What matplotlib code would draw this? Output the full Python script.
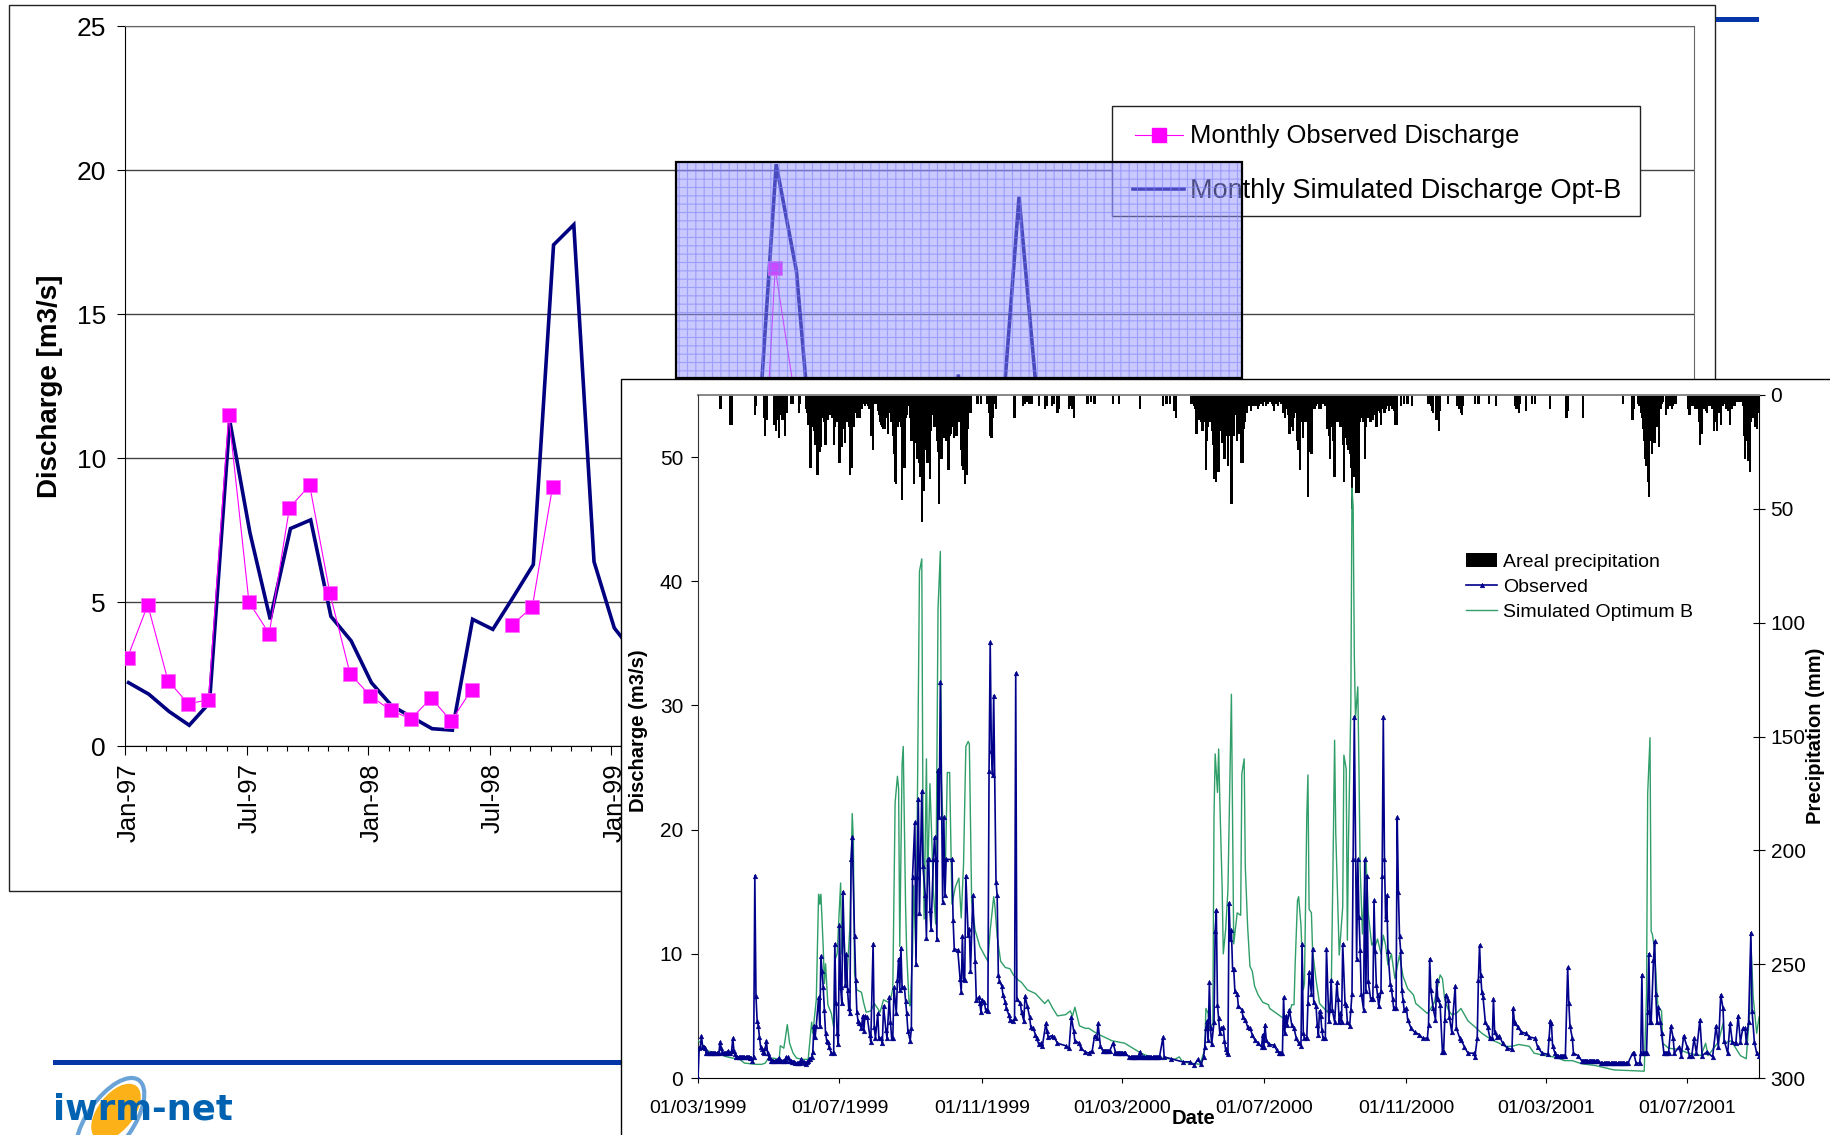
import numpy as np
import matplotlib
matplotlib.use("Agg")
import matplotlib.pyplot as plt
from matplotlib.patches import Rectangle, Ellipse
from matplotlib.ticker import FixedLocator, FixedFormatter
from matplotlib.transforms import ScaledTranslation

plt.rcParams['font.family'] = ['Liberation Sans', 'DejaVu Sans']
plt.rcParams['hatch.linewidth'] = 0.8

# ---------- background chart (monthly) ----------
back_month_labels = ['Jan-97', 'Jul-97', 'Jan-98', 'Jul-98', 'Jan-99', 'Jul-99', 'Jan-00', 'Jul-00',
                     'Jan-01', 'Jul-01', 'Jan-02', 'Jul-02', 'Jan-03']
back_y_ticks = [0, 5, 10, 15, 20, 25]
monthly_obs = [3.07, 4.9, 2.27, 1.47, 1.6, 11.5, 5.0, 3.9, 8.27, 9.05, 5.3, 2.5, 1.74, 1.24, 0.94, 1.66, 0.87, 1.96,
               np.nan, 4.2, 4.83, 9.0, np.nan, np.nan, np.nan, np.nan, np.nan, np.nan, np.nan, np.nan, np.nan,
               3.5, 16.6, 12.0]
monthly_sim = [2.2, 1.8, 1.2, 0.72, 1.5, 11.3, 7.4, 4.4, 7.55, 7.85, 4.5, 3.65, 2.2, 1.4, 1.0, 0.6, 0.55, 4.4, 4.05,
               5.16, 6.3, 17.4, 18.1, 6.4, 4.1, 3.2, 2.4, 1.8, 1.6, 2.5, 4.0, 9.6, 20.2, 16.5, 8.3, 5.0, 4.0, 3.5,
               4.0, 3.5, 5.0, 12.9, 3.0, 9.8, 19.07, 11.2, 6.0]

# ---------- foreground chart (daily, day number from 01/03/1999) ----------
front_tick_days = [0, 122, 245, 366, 488, 611, 731, 853]
front_tick_labels = ['01/03/1999', '01/07/1999', '01/11/1999', '01/03/2000', '01/07/2000', '01/11/2000', '01/03/2001', '01/07/2001']
discharge_ticks = [0, 10, 20, 30, 40, 50]
precip_ticks = [0, 50, 100, 150, 200, 250, 300]

obs_1999 = [(0,0),(1,2.4),(2,2.5),(3,3.4),(4,2.5),(5,2.5),(6,2.4),(7,2),(8,2),(9,2),(10,2),(11,2),(12,2),(13,2),(14,2),(15,2),(16,2),(17,2),(18,2),
 (19,2.9),(20,2.4),(21,2.1),(22,2),(23,2),(24,2),(25,2),(26,2.2),(27,2),(28,2),(29,2.2),(30,3.2),(31,2.2),(32,1.9),(33,1.7),(34,1.7),(35,1.7),(36,1.7),(37,1.7),(38,1.7),(39,1.7),(40,1.7),(41,1.7),(42,1.7),(43,1.7),(44,1.7),(45,1.6),(46,1.6),(47,1.4),(48,1.7),
 (49,16.3),(50,6.6),(51,4.6),(52,4.2),(53,3.3),(54,2.5),(55,2.3),(56,2.1),(57,2),(58,2.4),(59,3),(60,2),(61,1.7),(62,1.6),(63,1.4),(64,1.4),(65,1.4),(66,1.4),(67,1.4),(68,1.4),(69,1.5),(70,1.6),(71,1.4),(72,1.4),(73,1.4),(74,1.4),(75,1.4),(76,1.7),(77,1.4),(78,1.7),(79,1.4),(80,1.4),(81,1.3),(82,1.3),(83,1.3),(84,1.2),(85,1.2),(86,1.2),(87,1.2),(88,1.2),(89,1.5),(90,1.4),(91,1.3),(92,1.2),(93,1.1),(94,1.3),(95,1.4),(96,1.5),(97,1.5),(98,1.7),(99,2.1),
 (100,4.2),(101,3.3),(102,4.2),(104,6.5),(105,4.2),(106,9.8),(107,8.6),(108,7.3),(109,5.5),(110,3.6),(111,3),(112,2.9),(113,2.5),(115,2),(117,2),(118,10.8),(119,6),(120,3.6),(121,2.7),(122,12.3),(123,7.3),(124,6),(125,15),(127,7.5),(128,10),(129,7.1),(130,5.6),(131,5.2),(132,17.6),(133,19.4),(135,11.4),(136,7.9),(137,5.3),(138,4.6),(139,4.4),(141,4),(142,5),(143,3.8),(144,5),(146,4.9),(148,3.5),(149,2.9),(151,10.8),(152,4.1),(153,3.2),(155,5.2),(156,3.2),(158,3.2),(159,2.8),(160,5.8),(162,3.9),(163,3.2),(165,6.5),(166,4.5),(167,3.2),(168,3.2),(169,7.3),(171,5.2),(172,7.9),(173,9.6),(174,7.1),(175,10.5),(176,7.3),(178,7.3),(179,6.2),(180,5.2),(181,3.8),(183,3),(184,4),
 (185,16.2),(187,20.6),(188,9.2),(189,16.2),(190,22.5),(191,13.3),(193,23.1),(194,17.1),(196,14.7),(197,11.3),(198,17.6),(199,17.6),(200,13.5),(201,12),(203,17.6),(204,19.4),(205,17.6),(206,11.2),(207,24.8),(208,21),(209,31.9),(211,14.2),(212,21),(213,14.7),(214,17.6),(219,17.6),(220,12.7),(221,10.4),(224,10.3),(226,8),(227,6.9),(228,11.4),(229,8),(230,7.9),(231,16.3),(233,11.5),(234,12),(235,8.6),(237,14.7),(239,9.4),(240,6.3),(242,6.5),(243,6),(244,5.3),(245,6.3),(247,6.1),(248,5.5),(250,5.4),(251,24.7),(252,35.1),(253,26.3),(254,24.4),(255,30.8),(257,15.8),(258,14.7),(259,8.3),(260,7.8),(262,7.4),(263,6.7),(265,6.1),(266,5.6),(268,5.1),(269,4.7),(272,4.6),(273,4.8),(274,32.6),(275,6.4),(278,6),(279,5.3),(281,4.6),(282,6.6),(284,5.8),(286,4.9),(287,4.1),(289,4),(291,3.5),(292,3.2),(294,2.7)]
obs_2000 = [(296,2.8),(297,2.6),(300,4.4),(301,3.8),(302,3.3),(305,3.4),(307,3.3),(310,2.8),(317,2.6),(320,2.4),(322,4.9),(324,3.8),(325,3),(329,2.8),(330,2.4),(334,2.1),(337,2),(340,2.2),(342,3.4),(344,3.2),(345,4.4),(347,2.6),(349,2.2),(355,2.2),(358,2.8),(360,2.1),(368,2),(372,1.7),(380,1.7),(381,2.1),(382,1.7),(398,1.7),(401,3.3),(402,1.7),(408,1.55),(418,1.3),(424,1.3),(428,1.05),(431,1.5),(434,1.1),(436,1.7),(437,2.5),(438,4),(439,4.6),(440,3.1),(441,7.7),(442,4),(443,2.7),(445,4.5),(446,11.8),(447,13.5),(448,5.9),(449,4.8),(450,3.6),(451,4),(453,4.1),(454,3),(455,2.3),(456,2.1),(457,1.9),(458,14.1),(459,11.2),(460,11.9),(461,8.8),(462,8.8),(463,7),(465,6.8),(466,5.8),(469,5.5),(470,4.9),(472,4.7),(474,4.1),(476,4),(478,3.5),(480,3.1),(483,2.8),(486,2.5),(487,3.5),(488,2.5),(489,4.3),(490,3.1),(492,2.7),(497,2.65),(499,2.25),(501,2),(504,2),(505,6.5),(506,3.6),(507,5),(508,4.3),(510,5.5),(512,4.3),(514,4),(516,3.2),(518,2.8),(520,2.6),(521,10.8),(522,3.6),(523,3.2),(525,3.2),(526,6),(527,8.5),(529,6.8),(530,10.4),(531,6.1),(533,5.8),(534,4.3),(535,3.5),(536,5.4),(537,5),(538,3.9),(539,3.2),(541,3.2),(542,10.4),(544,4.6),(545,5.5),(546,7.9),(547,5.5),(549,4.5),(551,7.7),(552,6.4),(553,4.5),(554,5.2),(555,4.5),(556,10.8),(558,6),(559,5.9),(560,4.5),(562,4.2),(563,5.5),(564,6.8),(565,17.6),(566,29.1),(568,9.6),(569,17.6),(570,13),(571,10.3),(572,6.8),(574,5.5),(575,17.6),(576,7),(577,16.3),(578,7.8),(580,6.4),(582,6.4),(583,14.3),(584,10.2),(585,7.5),(586,6.7),(587,5.8),(589,7),(590,16.3),(591,29.1),(592,17.6),(593,12.8),(594,14.7),(595,10.2),(597,7.6),(598,7.2),(599,6.4),(600,5.6),(602,5.6),(603,21),(604,15),(605,11.4),(606,10.2),(607,7.1),(608,6.3),(609,5.5),(611,5.6),(612,4.7),(615,4),(618,3.7),(622,3.5),(625,3.2),(629,3.2),(630,4.3),(631,9.6),(632,7.1),(634,5.6),(636,4.7),(637,7.9),(638,6.4),(640,5.9),(642,2.1),(643,2.1),(644,4.7),(645,6.7),(647,6.3),(648,4.9),(650,3.7),(653,7.4),(654,4),(657,3.2),(658,3.1),(661,2.5),(664,2)]
obs_2001 = [(669,2),(670,1.7),(672,3.2),(673,7.9),(674,10.7),(675,8.3),(676,6.9),(677,6.5),(679,4.5),(681,4.1),(683,3.2),(685,3.2),(686,6.4),(687,3.7),(689,3.3),(691,3.4),(694,2.8),(698,2.4),(702,2.3),(703,5.6),(704,4.6),(705,4.4),(707,4.1),(710,3.7),(714,3.6),(717,3.3),(722,3.2),(724,2.5),(728,2),(733,1.9),(734,3.2),(735,4.6),(736,4.4),(737,2.6),(739,2),(740,1.75),(748,1.75),(750,8.9),(751,6),(752,4.2),(754,3.2),(755,2),(759,1.8),(762,1.4),(776,1.4),(779,1.2),(802,1.2),(806,2),(807,2),(809,1.2),(812,1.2),(813,2),(814,8.3),(815,2),(818,2),(819,5.3),(820,10),(821,4.5),(822,4.5),(824,9.5),(825,11),(826,6.8),(827,4.5),(828,5.7),(830,4.5),(831,3.6),(833,2),(837,2),(839,4.2),(841,3.2),(842,2),(846,2.5),(848,1.8),(850,3.4),(853,2.5),(855,1.8),(857,1.8),(859,3.2),(861,2),(864,4.7),(866,1.8),(870,2.1),(875,1.7),(878,4.2),(880,2.5),(882,6.7),(884,5.6),(885,3),(888,2),(890,4.4),(892,2.9),(895,2.8),(897,5),(899,2.9),(901,4),(903,4),(904,2.9),(906,4.5),(908,11.7),(909,5.4),(911,2.9),(913,2),(915,1.8)]
# stretches where the gauge reading stays level for many days: (first day, last day, m3/s)
obs_level_runs = [(382,398,1.7),(372,380,1.7),(740,748,1.75),(762,776,1.4),(779,802,1.2),(349,355,2.2),(501,504,2),(360,368,2.05),(833,837,2),(815,818,2)]

sim_1999 = [(0,3),(3,2.8),(8,2.2),(15,2),(25,1.7),(30,1.6),(36,1.5),(40,1.2),(50,1.1),(55,1.1),(58,1.2),(60,1.5),(65,1.6),(70,1.5),(71,2.6),(74,2.4),(75,3),(77,4.3),(79,2.8),(82,2),(85,1.6),(90,1.5),(95,1.5),(98,4.5),(99,3.6),(102,6.3),(104,14.8),(105,14),(106,14.8),(108,10.5),(109,7.6),(110,9.2),(112,5.9),(115,5.2),(117,4.1),(118,9.5),(120,10),(123,15.7),(124,10),(126,11.4),(128,7.3),(131,12.2),(133,21.3),(134,19.1),(135,8.4),(137,7.1),(141,6.9),(143,6),(145,5.3),(149,5.4),(152,6),(155,5.6),(157,5.3),(160,6.3),(164,6.1),(166,6.3),(168,7.2),(170,22.2),(172,24.3),(173,23.3),(174,10.6),(176,25.3),(177,26.7),(179,13.9),(180,10),(182,6.1),(183,5.8),(185,10),(186,15.5),(188,9.7),(191,40.8),(193,41.8),(194,21),(195,12.8),(197,25.7),(198,15.5),(200,23.7),(201,21),(203,15),(205,12.4),(207,37.8),(209,42.4),(210,23.9),(213,15.3),(215,24.6),(217,24.6),(219,14),(222,15.4),(225,16.1),(227,12.9),(229,17.2),(231,26.7),(233,27.1),(234,26.9),(236,14.2),(239,11.9),(243,10.6),(247,9.9),(250,9.4),(252,11.9),(255,14.6),(256,13.9),(258,11.4),(261,9.4),(265,8.9),(269,8.8),(272,8.3),(276,7.9),(279,7.7),(284,7.1),(291,6.8),(299,6),(302,6.3),(306,5.6),(310,5),(317,5.1),(321,5.4),(323,5),(325,5.7),(329,4.2),(334,4),(337,4),(342,3.7),(348,3.4),(357,3),(368,2.8),(375,2.4),(382,2),(390,1.7),(401,1.6),(411,1.5),(415,1.7),(418,1.3),(424,1.2),(429,1.15),(433,1.1),(436,2)]
sim_2000 = [(437,2.25),(438,5.6),(440,5.2),(441,3.9),(444,4.4),(445,21),(446,26.1),(448,23),(449,26.5),(450,22.4),(452,15.4),(453,10),(455,11.9),(457,15.1),(460,30.9),(462,10.8),(465,13.3),(468,13.1),(469,24.5),(471,25.7),(472,17),(474,12.2),(476,9),(478,8.6),(480,7.4),(483,6.7),(487,6.1),(492,5.9),(493,5.6),(499,5.2),(505,4.8),(509,4.8),(512,5.9),(514,5.9),(515,9.2),(517,14.3),(518,14.6),(520,12.3),(522,7.1),(523,7.6),(525,21),(526,24.4),(527,13.6),(529,13.3),(530,10.3),(533,7.9),(536,6),(539,5.7),(543,5.3),(546,6.3),(548,19.7),(549,27.2),(550,19.7),(553,9.9),(556,13.8),(557,26),(559,24.9),(560,11.1),(561,19.2),(563,30),(564,47.5),(565,46),(566,34),(567,29),(569,31.5),(570,25),(571,17),(573,11.6),(576,17.8),(578,13.3),(581,10.7),(583,11),(584,10.6),(586,11.2),(589,10),(591,11.5),(593,10.7),(595,9.1),(598,10),(601,8),(605,9.9),(608,8.2),(612,7.2),(617,6.7),(619,6),(624,5.6),(629,5.2),(632,5.6),(635,6.1),(640,8.3),(642,8),(644,6.3),(647,5.5),(650,5.1),(654,5.2),(658,5.6),(664,4.6)]
sim_2001 = [(669,4.2),(676,3.6),(684,3.1),(691,2.8),(696,2.55),(702,2.55),(708,2.7),(717,2.55),(721,2),(731,1.8),(741,1.65),(747,1.4),(754,1.4),(762,1.15),(774,1),(790,0.65),(804,0.6),(816,0.55),(818,6.8),(819,22.9),(821,27.4),(822,11.8),(823,11.6),(825,10.3),(827,6.8),(828,5.7),(831,5.4),(832,2.8),(837,2.4),(846,2.3),(854,2),(865,1.8),(869,2.8),(871,1.8),(880,2.9),(884,4.4),(885,2.8),(891,3),(899,1.8),(904,1.55),(907,5.4),(908,11),(910,6.5),(913,3.6),(915,4.9)]

precip_sparse = [(19,6),(20,6),(28,13),(29,13),(49,9),(50,5),(57,10),(58,18),(59,11),(66,13),(67,16),(68,11),(70,19),(71,9),(72,5),(73,11),(75,18),(76,8),(77,8),(80,4),(82,4),(87,8),(88,4),
 (241,4),(244,4),(249,4),(250,4),(251,8),(252,18),(253,19),(254,10),(255,4),(256,3),(257,6),(273,10),(280,5),(282,4),(284,3),(286,4),(288,4),(294,5),(299,6),(301,5),(305,5),(307,4),(310,8),(311,6),(320,6),(321,5),(323,6),(324,10),(336,4),(339,3),(342,4),(358,4),(363,4),(381,6),(401,5),(404,4),(407,4),(411,7),(412,10),
 (601,13),(602,9),(603,13),(606,5),(609,4),(612,4),(616,5),(630,4),(631,4),(632,5),(633,7),(634,8),(637,11),(639,16),(640,7),(647,4),(655,5),(656,6),(658,8),(659,9),(660,5),(670,4),(673,4),(682,4),(688,5),(705,5),(706,6),(708,8),(709,4),(714,7),(719,4),(722,4),(735,6),(749,10),(750,7),(763,10),
 (798,4),(806,11),(807,6),(811,4),(812,5),(813,8),(814,10),(815,15),(816,20),(817,28),(818,31),(819,38),(820,45),(821,20),(822,18),(823,26),(824,12),(825,21),(826,14),(827,12),(828,14),(829,23),(830,6),(831,4),(832,3),(835,9),(836,6),(838,5),(840,6),(841,5),(843,4)]
precip_wet_1999_start = 93
precip_wet_1999 = [6,8,13,10,32,14,11,16,22,12,35,18,25,23,10,9,12,22,8,11,7,9,8,10,22,14,9,12,10,30,12,23,15,9,21,12,11,14,35,20,32,14,8,6,10,10,10,10,6,4,3,5,4,3,5,6,18,8,24,4,3,4,7,9,12,13,14,15,15,8,10,17,8,5,12,18,26,38,39,14,8,12,14,46,20,32,10,9,4,5,10,20,18,39,14,21,28,24,30,36,56,30,42,24,8,30,20,37,16,8,9,14,9,20,25,48,24,28,16,19,11,20,16,33,18,17,14,10,19,12,18,10,12,6,24,31,33,39,16,35,15,8,8]
precip_wet_2000_start = 425
precip_wet_2000 = [4,4,4,5,6,17,5,11,8,12,16,9,12,33,20,14,12,9,16,22,37,24,38,20,34,16,12,21,15,28,14,18,31,12,18,48,15,18,8,9,20,14,17,30,26,30,15,12,8,4,5,4,7,4,5,4,5,4,6,5,3,4,5,3,3,5,4,3,2,3,4,5,7,4,3,5,3,2,4,3,8,10,6,4,9,17,14,5,16,10,5,8,20,24,33,12,10,19,10,12,12,45,12,25,26,6,5,6,5,4,4,6,6,3,4,3,5,5,15,18,28,10,14,20,36,12,10,12,8,14,10,22,38,18,19,22,24,26,32,50,30,36,20,43,20,43,12,10,10,12,28,14,9,10,8,12,6,11,9,6,14,7,5,8,13,6,4,8,6,5,4,7,5,5,6,7]
precip_wet_2001_start = 854
precip_wet_2001 = [6,9,5,4,5,4,6,5,6,12,22,8,17,6,6,7,8,5,4,5,4,6,16,12,9,16,6,8,13,5,5,3,4,6,7,6,13,4,6,4,5,3,3,2,3,2,3,5,18,28,14,20,29,34,12,6,10,9,14,15,8,4]

legend_front = ['Areal precipitation', 'Observed', 'Simulated Optimum B']
legend_back = ['Monthly Observed Discharge', 'Monthly Simulated Discharge Opt-B']

W, H = 1831, 1135
fig = plt.figure(figsize=(W / 100, H / 100), dpi=100, facecolor='white')


def rect(x0, y0, x1, y1):
    return [x0 / W, 1 - y1 / H, (x1 - x0) / W, (y1 - y0) / H]


def overlay(z):
    a = fig.add_axes([0, 0, 1, 1], zorder=z)
    a.set_xlim(0, W)
    a.set_ylim(H, 0)
    a.axis('off')
    a.patch.set_alpha(0)
    return a


BLUE_BAR = '#0536a8'
# lowest decorative layer
low = overlay(0)
low.add_patch(Rectangle((9, 5), 1706, 886, fc='white', ec='#222222', lw=1.0))
low.add_patch(Rectangle((1716, 17), 43, 5, fc=BLUE_BAR, ec='none'))
low.add_patch(Rectangle((53, 1060), 600, 5, fc=BLUE_BAR, ec='none'))
low.add_patch(Ellipse((110, 1121), 100, 46, angle=-55, fc='none', ec='#6aa3d8', lw=3))
low.add_patch(Ellipse((116, 1112), 66, 36, angle=-52, fc='#fbb117', ec='none'))
low.text(53, 1120, 'iwrm-net', color='#0062b1', fontsize=25.5, fontweight='bold', family='DejaVu Sans', va='baseline')

# background chart
ax = fig.add_axes(rect(125.5, 26, 1694, 746), zorder=1)
ax.patch.set_alpha(0)
months = np.arange(len(monthly_sim)) + 0.15
mo = np.arange(len(monthly_obs)) + 0.1
ax.plot(months, monthly_sim, color='#000080', lw=2.6, zorder=3, solid_joinstyle='miter')
ax.plot(mo, monthly_obs, color='#ff00ff', lw=0.8, marker='s', ms=9.5, mec='#ff66ff', mew=0.5, zorder=4)
ax.set_xlim(0, 77.5)
ax.set_ylim(0, 25)
ax.set_yticks(back_y_ticks)
ax.tick_params(axis='y', labelsize=19, length=6, width=0.8, pad=8)
ax.xaxis.set_major_locator(FixedLocator(np.arange(len(back_month_labels)) * 6))
ax.xaxis.set_major_formatter(FixedFormatter(back_month_labels))
ax.xaxis.set_minor_locator(FixedLocator(np.arange(78)))
ax.tick_params(axis='x', which='major', labelsize=18.5, length=6.5, width=0.8, pad=6, labelrotation=90)
ax.tick_params(axis='x', which='minor', length=3.5, width=0.8)
ax.grid(axis='y', color='#444444', lw=1.0, zorder=1)
for s in ['top', 'right']:
    ax.spines[s].set_color('#666666')
ax.set_ylabel('Discharge [m3/s]', fontsize=20, fontweight='bold')
ax.yaxis.set_label_coords(-0.0397, 0.5)
shift = ScaledTranslation(3 / 100, 0, fig.dpi_scale_trans)
for lab in ax.get_xticklabels():
    lab.set_transform(lab.get_transform() + shift)

low2 = overlay(1.5)
low2.add_patch(Rectangle((1112, 106), 528, 110, fc='white', ec='#222222', lw=1.0))
low2.plot([1135, 1183], [135, 135], color='#ff00ff', lw=0.8)
low2.plot([1159], [135], marker='s', ms=9.5, color='#ff00ff')
low2.plot([1133, 1184], [189, 189], color='#000080', lw=2.6)
low2.text(1190, 134, legend_back[0], fontsize=18.4, va='center_baseline')
low2.text(1190, 188, legend_back[1], fontsize=19.5, va='center_baseline')

# translucent blue box and white panel
mid = overlay(2)
mid.add_patch(Rectangle((676, 162), 566, 216, fc=(0.58, 0.58, 1.0, 0.5), ec='none'))
mid.add_patch(Rectangle((676, 162), 566, 216, fc='none', ec=(0.5, 0.5, 0.98, 0.6), hatch='++', lw=0))
mid.add_patch(Rectangle((676, 162), 566, 216, fc='none', ec='black', lw=1.6))
mid.add_patch(Rectangle((621, 379), 1300, 900, fc='white', ec='black', lw=1.0))

# foreground chart
box = rect(698, 395, 1759, 1078)
axp = fig.add_axes(box, zorder=3)
axp.patch.set_alpha(0)
pd_days = [d for d, _ in precip_sparse] \
    + list(range(precip_wet_1999_start, precip_wet_1999_start + len(precip_wet_1999))) \
    + list(range(precip_wet_2000_start, precip_wet_2000_start + len(precip_wet_2000))) \
    + list(range(precip_wet_2001_start, precip_wet_2001_start + len(precip_wet_2001)))
pd_vals = [v for _, v in precip_sparse] + precip_wet_1999 + precip_wet_2000 + precip_wet_2001
bars = axp.bar(pd_days, pd_vals, width=2.0, color='black', lw=0, label=legend_front[0])
axp.set_xlim(0, 915)
axp.set_ylim(300, 0)
axp.yaxis.tick_right()
axp.set_yticks(precip_ticks)
axp.tick_params(axis='y', labelsize=15, direction='inout', length=8.6, width=0.8, pad=4)
axp.set_xticks([])
for s in ['left', 'bottom']:
    axp.spines[s].set_visible(False)
axp.spines['top'].set_color('#888888')
axp.spines['top'].set_linewidth(1.4)
axp.spines['right'].set_color('black')

axf = fig.add_axes(box, zorder=4)
axf.patch.set_alpha(0)
obs_runs = [(d, v) for a, b, v in obs_level_runs for d in range(a, b + 1)]
obs = sorted(set(obs_1999 + obs_2000 + obs_2001 + obs_runs), key=lambda p: p[0])
sim = sim_1999 + sim_2000 + sim_2001
l_sim, = axf.plot([d for d, _ in sim], [v for _, v in sim], color='#2f9e68', lw=1.0, zorder=3, label=legend_front[2])
l_obs, = axf.plot([d for d, _ in obs], [v for _, v in obs], color='#00008b', lw=1.2, marker='^', ms=3.4,
                  mew=0.3, zorder=4, label=legend_front[1])
axf.set_xlim(0, 915)
axf.set_ylim(0, 55)
axf.set_yticks(discharge_ticks)
axf.set_xticks(front_tick_days)
axf.set_xticklabels(front_tick_labels)
axf.tick_params(axis='y', labelsize=15, length=4.7, width=0.8, pad=6)
axf.tick_params(axis='x', labelsize=14, length=3.6, width=0.8, pad=12)
for s in ['top', 'right']:
    axf.spines[s].set_visible(False)
axf.spines['left'].set_color('#333333')

top = overlay(5)
top.text(1194, 1119, 'Date', fontsize=14.5, fontweight='bold', ha='center', va='center')
top.text(639, 731, 'Discharge (m3/s)', fontsize=14.5, fontweight='bold', rotation=90, ha='center', va='center')
top.text(1816, 736, 'Precipitation (mm)', fontsize=14.5, fontweight='bold', rotation=90, ha='center', va='center')
top.legend([bars, l_obs, l_sim], legend_front, loc='upper left', bbox_to_anchor=(1466, 553),
           bbox_transform=top.transData, frameon=False, fontsize=14, borderpad=0, borderaxespad=0,
           labelspacing=0.39, handlelength=1.6, handletextpad=0.3)

fig.savefig('out.png', dpi=100, facecolor='white')
